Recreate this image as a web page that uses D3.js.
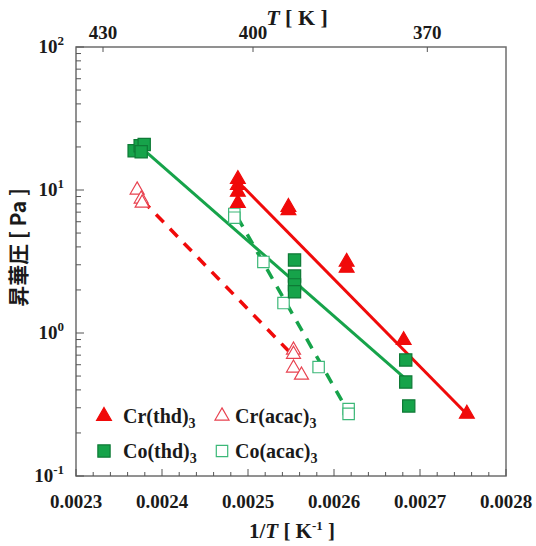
<!DOCTYPE html>
<html>
<head>
<meta charset="utf-8">
<script src="https://cdn.jsdelivr.net/npm/d3@7"></script>
<style>
  body { margin: 0; background: #fff; }
  text { font-family: "Liberation Serif", "DejaVu Serif", serif; font-weight: bold; fill: #1a1a1a; }
</style>
</head>
<body>
<div id="chart"></div>
<script>
const W = 536, H = 546;
const margin = { top: 47, right: 30, bottom: 70, left: 76 };
const width = W - margin.left - margin.right;
const height = H - margin.top - margin.bottom;

// data: 1/T [1/K], pressure [Pa]
const crThdX = [0.0024882, 0.0024882, 0.0024882, 0.0024882, 0.002547, 0.002547, 0.0026147, 0.0026147, 0.002681, 0.0027545];
const crThdP = [11.9, 10.8, 9.7, 8.1, 7.6, 7.2, 3.14, 2.85, 0.89, 0.272];
const crAcacX = [0.0023711, 0.0023758, 0.0023769, 0.0025529, 0.0025529, 0.0025529, 0.0025622];
const crAcacP = [10.0, 8.65, 8.1, 0.76, 0.71, 0.569, 0.508];
const coThdX = [0.0023676, 0.0023746, 0.0023793, 0.0023758, 0.0025541, 0.0025541, 0.0025541, 0.0025541, 0.0026834, 0.0026834, 0.0026869];
const coThdP = [18.8, 20.4, 20.8, 18.5, 3.24, 2.5, 2.17, 1.94, 0.648, 0.454, 0.309];
const coAcacX = [0.0024841, 0.0024841, 0.0025179, 0.0025413, 0.0025821, 0.002617, 0.002617];
const coAcacP = [6.8, 6.4, 3.14, 1.62, 0.578, 0.294, 0.272];

// fitted lines (end points)
const crThdFitX = [0.0024946, 0.002752];
const crThdFitP = [10.5, 0.28];
const crAcacFitX = [0.0023769, 0.0025483];
const crAcacFitP = [8.5, 0.736];
const coThdFitX = [0.0023828, 0.002681];
const coThdFitP = [18.2, 0.492];
const coAcacFitX = [0.0024876, 0.00261];
const coAcacFitP = [6.47, 0.329];

const xTicks = [0.0023, 0.0024, 0.0025, 0.0026, 0.0027, 0.0028];
const yTicks = [0.1, 1, 10, 100];
const yExp = ["-1", "0", "1", "2"];
const topTicks = [430, 400, 370];

const RED = "#f00a0a", GREEN = "#16a34a";
const RED_L = "#e8414f", GREEN_L = "#3cb878";

const svg = d3.select("#chart").append("svg")
    .attr("width", W).attr("height", H)
    .append("g")
    .attr("transform", `translate(${margin.left},${margin.top})`);

const x = d3.scaleLinear().domain([0.0023, 0.0028]).range([0, width]);
const y = d3.scaleLog().domain([0.1, 100]).range([height, 0]);
// top axis in the original sits a few px right of the 1/T positions
const xTop = d3.scaleLinear().domain(x.domain()).range([5, width + 5]);

// frame
svg.append("rect")
    .attr("width", width).attr("height", height)
    .attr("fill", "none").attr("stroke", "#6e6e6e").attr("stroke-width", 1.5);

// bottom ticks (inside)
const xMinor = d3.range(0, 26).map(i => 0.0023 + i * 0.00002);
svg.selectAll(".xminor").data(xMinor).enter().append("line")
    .attr("x1", d => x(d)).attr("x2", d => x(d))
    .attr("y1", height).attr("y2", (d, i) => height - (i % 5 === 0 ? 7 : 4))
    .attr("stroke", "#555").attr("stroke-width", 1);
svg.selectAll(".xlab").data(xTicks).enter().append("text")
    .attr("x", d => x(d)).attr("y", height + 32)
    .attr("text-anchor", "middle").style("font-size", "19px")
    .text(d => d.toFixed(4));

// left ticks (inside)
const yMinor = [];
[0.1, 1, 10].forEach(b => { for (let k = 1; k <= 9; k++) yMinor.push(b * k); });
yMinor.push(100);
svg.selectAll(".yminor").data(yMinor).enter().append("line")
    .attr("x1", 0).attr("x2", d => (Math.abs(Math.log10(d) % 1) < 1e-9 ? 8 : 5))
    .attr("y1", d => y(d)).attr("y2", d => y(d))
    .attr("stroke", "#555").attr("stroke-width", 1);
const ylab = svg.selectAll(".ylab").data(yTicks).enter().append("text")
    .attr("x", -12).attr("y", d => y(d) + 6)
    .attr("text-anchor", "end").style("font-size", "19px");
ylab.append("tspan").text("10");
ylab.append("tspan").attr("dy", -8).style("font-size", "13px").text((d, i) => yExp[i]);

// top axis (T)
svg.selectAll(".ttick").data(topTicks).enter().append("line")
    .attr("x1", d => xTop(1 / d)).attr("x2", d => xTop(1 / d))
    .attr("y1", 0).attr("y2", 5)
    .attr("stroke", "#555").attr("stroke-width", 1);
svg.selectAll(".tlab").data(topTicks).enter().append("text")
    .attr("x", d => xTop(1 / d)).attr("y", -8)
    .attr("text-anchor", "middle").style("font-size", "19px")
    .text(d => d);

// titles
const tt = svg.append("text").attr("x", 221).attr("y", -22)
    .attr("text-anchor", "middle").style("font-size", "22px");
tt.append("tspan").style("font-style", "italic").text("T");
tt.append("tspan").text(" [ K ]");

const xt = svg.append("text").attr("x", width / 2 + 1).attr("y", height + 62)
    .attr("text-anchor", "middle").style("font-size", "21px");
xt.append("tspan").text("1/");
xt.append("tspan").style("font-style", "italic").text("T");
xt.append("tspan").text(" [ K");
xt.append("tspan").attr("dy", -8).style("font-size", "13px").text("-1");
xt.append("tspan").attr("dy", 8).text(" ]");

svg.append("text")
    .attr("transform", `translate(${-50},${height / 2 - 14}) rotate(-90)`)
    .attr("text-anchor", "middle")
    .style("font-family", "'Noto Sans CJK JP', sans-serif")
    .style("font-size", "21px")
    .text("昇華圧 [ Pa ]");

// fit lines
const fits = [
    { xs: crThdFitX, ps: crThdFitP, c: RED, dash: null },
    { xs: coThdFitX, ps: coThdFitP, c: GREEN, dash: null },
    { xs: crAcacFitX, ps: crAcacFitP, c: RED, dash: "11,9" },
    { xs: coAcacFitX, ps: coAcacFitP, c: GREEN, dash: "11,9" }
];
fits.forEach(f => {
    svg.append("line")
        .attr("x1", x(f.xs[0])).attr("y1", y(f.ps[0]))
        .attr("x2", x(f.xs[1])).attr("y2", y(f.ps[1]))
        .attr("stroke", f.c).attr("stroke-width", f.dash ? 3.5 : 3)
        .attr("stroke-dasharray", f.dash);
});

// markers
const tri = d3.symbol().type(d3.symbolTriangle).size(95);
const sq = d3.symbol().type(d3.symbolSquare).size(150);
const triO = d3.symbol().type(d3.symbolTriangle).size(85);
const sqO = d3.symbol().type(d3.symbolSquare).size(130);

function plot(xs, ps, sym, fill, stroke) {
    svg.append("g").selectAll("path")
        .data(xs.map((v, i) => [v, ps[i]]))
        .enter().append("path")
        .attr("transform", d => `translate(${x(d[0])},${y(d[1])})`)
        .attr("d", sym())
        .attr("fill", fill)
        .attr("stroke", stroke)
        .attr("stroke-width", 1.2);
}
plot(crAcacX, crAcacP, triO, "#fff", RED_L);
plot(coAcacX, coAcacP, sqO, "#fff", GREEN_L);
plot(coThdX, coThdP, sq, GREEN, "#0e7a36");
plot(crThdX, crThdP, tri, RED, RED);

// legend
const legend = [
    { name: "Cr(thd)", sym: tri, fill: RED, stroke: RED, col: 0, row: 0 },
    { name: "Cr(acac)", sym: triO, fill: "#fff", stroke: RED_L, col: 1, row: 0 },
    { name: "Co(thd)", sym: sq, fill: GREEN, stroke: "#0e7a36", col: 0, row: 1 },
    { name: "Co(acac)", sym: sqO, fill: "#fff", stroke: GREEN_L, col: 1, row: 1 }
];
const lg = svg.selectAll(".leg").data(legend).enter().append("g")
    .attr("transform", d => `translate(${28 + d.col * 118},${369 + d.row * 35})`);
lg.append("path").attr("d", d => d.sym())
    .attr("fill", d => d.fill).attr("stroke", d => d.stroke).attr("stroke-width", 1.2);
const lt = lg.append("text").attr("x", d => d.col ? 13 : 19).attr("y", 7).style("font-size", "20px");
lt.append("tspan").text(d => d.name);
lt.append("tspan").attr("dy", 5).style("font-size", "14px").text("3");
</script>
</body>
</html>
